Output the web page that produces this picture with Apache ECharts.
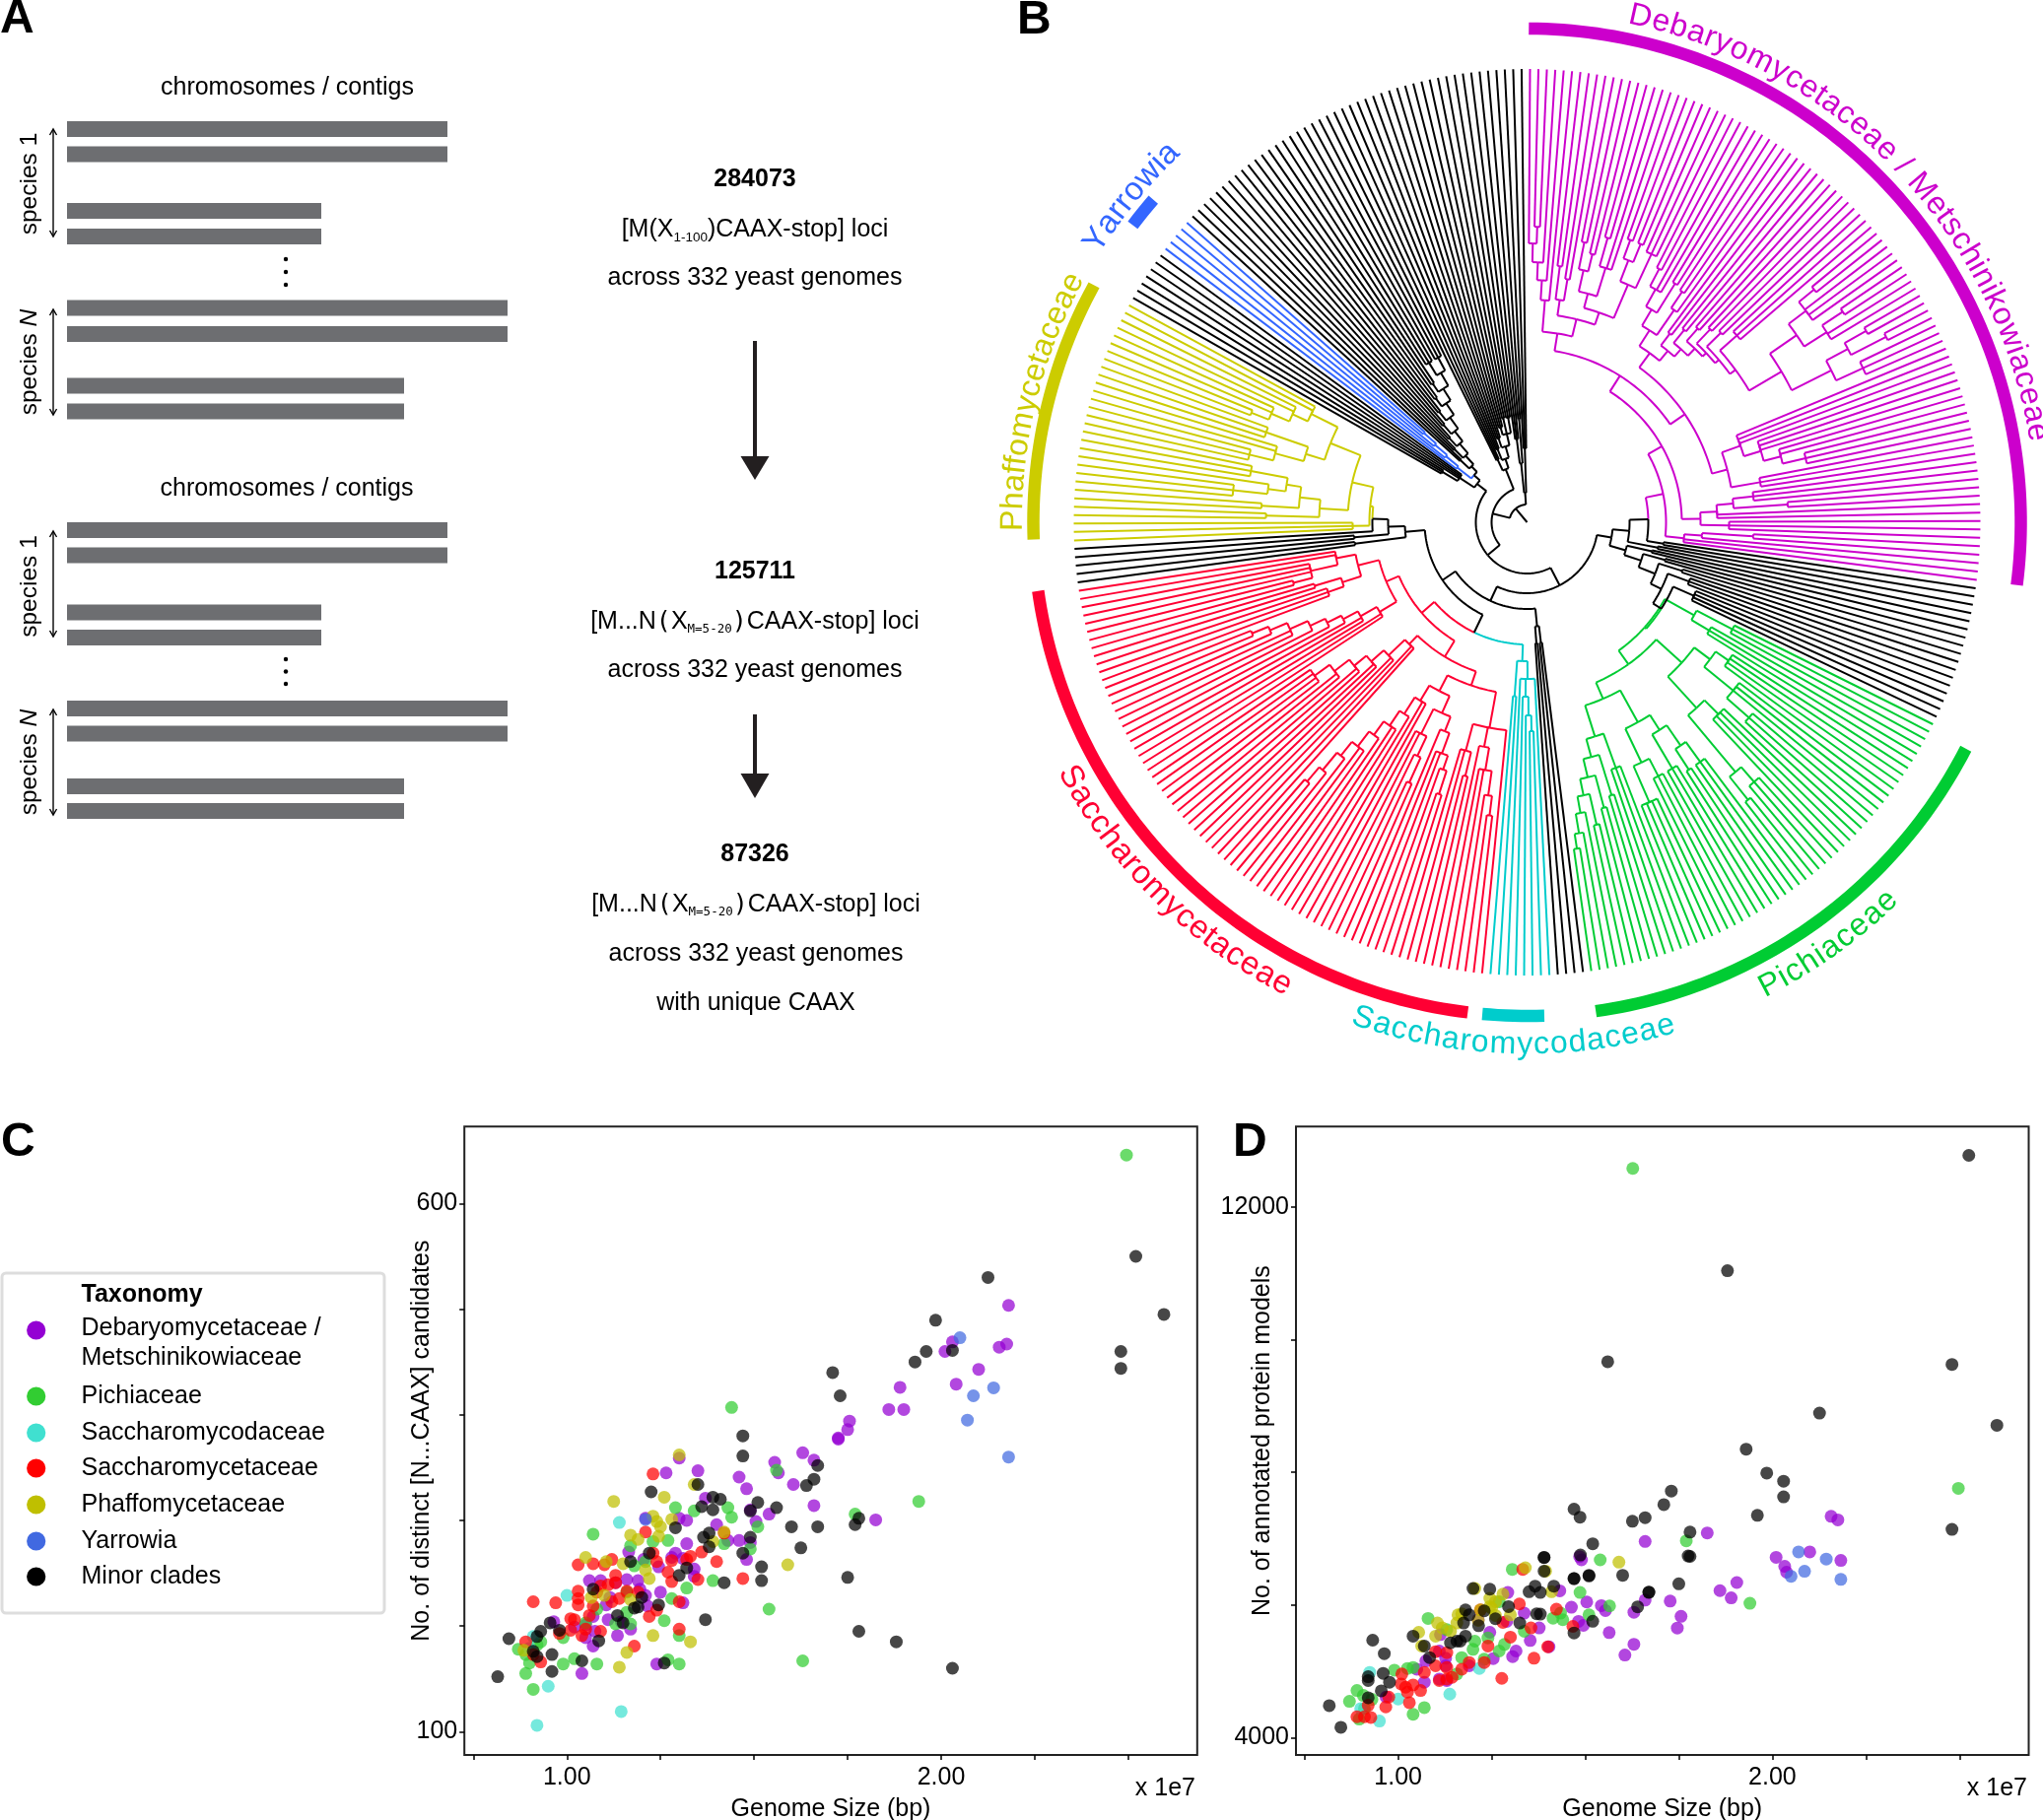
<!DOCTYPE html>
<html><head><meta charset="utf-8">
<style>html,body{margin:0;padding:0;background:#fff}#c{width:2073px;height:1847px}</style>
<script src="https://cdn.jsdelivr.net/npm/echarts@6/dist/echarts.min.js"></script>
</head><body><div id="c"></div>
<script>
/* ---------- Panel C values: [genome size (x 1e7 bp), distinct candidates] ---------- */
const cDebaryo=[[1.265,345],[1.30,359],[1.35,347],[1.63,364],[1.555,355],[1.66,357],[1.46,341],[1.48,330],[1.565,345],[1.605,334],[1.66,314],[1.725,378],[1.37,321],[1.54,306],[1.49,310],[1.505,299],[1.30,302],[1.32,300],[1.21,302],[1.40,296],[1.43,281],[1.46,281],[1.49,279],[1.48,263],[1.32,278],[1.165,270],[1.205,263],[1.28,265],[1.29,269],[1.245,256],[1.31,264],[1.34,254],[1.34,247],[1.06,243],[1.09,243],[1.16,244],[1.19,243],[1.13,241],[1.195,235],[1.21,229],[1.25,232],[1.31,222],[1.215,219],[1.105,220],[1.115,227],[1.07,209],[1.11,206],[0.965,204],[1.05,201],[1.075,195],[1.05,189],[1.135,191],[1.17,197],[1.07,181],[1.04,155],[1.24,164],[1.02,199],[1.145,204],[2.18,503.6],[2.175,467],[2.155,464],[2.03,469],[2.01,460],[2.10,443],[2.04,429],[1.89,426],[1.86,405],[1.90,405],[1.755,394],[1.75,386],[1.725,377],[1.825,300.5]];
const cPichia=[[1.07,287],[0.87,178],[0.89,173],[0.90,165],[0.89,155],[0.91,140],[0.99,164],[1.02,169],[1.08,164],[0.99,189],[1.17,276],[1.29,312],[1.34,309],[1.43,312],[1.44,303],[1.27,281],[1.23,280],[1.42,278],[1.51,294],[1.49,273],[1.32,236],[1.39,243],[1.28,226],[1.26,205],[1.30,191],[1.27,168],[1.30,164],[1.63,167],[1.54,216],[1.18,257],[1.21,261],[1.16,232],[1.17,202],[1.13,202],[1.08,216],[1.05,203],[0.93,185],[0.92,182],[1.16,213],[1.56,347.5],[1.77,306],[1.44,407],[1.94,318],[2.495,646]];
const cSaccharomycoda=[[1.00,229],[1.14,298],[0.95,143],[1.145,119],[0.92,106],[0.91,190],[0.90,179]];
const cSaccharomyceta=[[1.23,344],[1.03,258],[1.07,259],[1.10,258],[1.12,263],[0.91,223],[0.97,222],[1.03,233],[1.03,226],[1.03,220],[1.01,207],[1.02,206],[1.01,196],[0.98,193],[1.04,191],[1.07,219],[1.05,197],[1.09,195],[1.09,238],[1.13,248],[1.13,241],[1.11,239],[1.14,226],[1.16,233],[1.21,289],[1.23,269],[1.24,261],[1.28,262],[1.32,263],[1.33,266],[1.36,270],[1.40,261],[1.42,288],[1.27,251],[1.28,242],[1.35,244],[1.47,245],[1.30,223],[1.24,215],[1.22,209],[1.30,197],[1.18,181],[0.89,185],[0.91,173],[0.93,166],[1.12,223],[1.08,232],[1.06,210],[1.19,232]];
const cPhaffo=[[1.125,318],[1.30,362],[1.34,334],[1.26,322],[1.23,304],[1.24,299],[1.25,294],[1.28,301],[1.17,286],[1.19,282],[1.245,285],[1.05,265],[1.105,261],[1.15,259],[1.21,253],[1.22,245],[1.39,280],[1.42,289],[1.59,258],[1.065,227],[1.10,229],[1.17,225],[1.23,191],[1.33,185],[1.16,175],[1.14,161],[0.885,177]];
const cYarrowia=[[2.05,473],[2.14,425.5],[2.086,418],[2.07,395],[2.18,360],[1.21,301]];
const cMinor=[[1.47,380],[1.47,361],[1.225,327],[1.35,334],[1.39,322],[1.41,320],[1.36,313],[1.39,310],[1.51,317],[1.49,309],[1.56,312],[1.29,293],[1.60,294],[1.67,294],[1.38,288],[1.365,284],[1.38,275],[1.49,284],[1.47,269],[1.625,274],[1.52,256],[1.52,243],[1.64,333],[1.66,339],[1.67,352],[1.75,246],[1.78,195],[1.42,241],[1.32,255],[1.30,248],[1.17,261],[1.20,227],[1.245,220],[1.18,217],[1.19,218],[1.135,210],[1.15,203],[1.085,186],[1.07,235],[1.22,269],[1.37,206],[1.04,167],[1.26,165],[0.96,173],[0.96,157],[0.815,152],[0.845,188],[0.93,195],[0.92,190],[0.955,203],[0.98,196],[0.92,171],[0.91,176],[2.52,550],[2.595,495],[2.125,530],[2.48,460],[2.48,444],[1.985,489.5],[1.96,460],[2.03,461],[1.93,450],[1.71,440],[1.73,418],[2.03,160],[1.88,185],[1.77,296],[1.78,302]];

/* ---------- Panel D values: [genome size (x 1e7 bp), annotated protein models] ---------- */
const dDebaryo=[[1.826,7086],[1.66,6957],[2.157,7337],[2.175,7283],[2.183,6671],[2.10,6800],[2.01,6719],[2.033,6583],[2.038,6494],[1.905,6338],[1.86,6216],[1.89,6107],[1.727,6059],[1.756,5828],[1.746,5652],[1.63,5407],[1.606,5244],[1.66,6073],[1.63,5890],[1.485,6730],[1.49,6680],[1.293,6189],[1.432,6213],[1.504,6045],[1.463,5965],[1.543,5990],[1.554,5916],[1.482,5752],[1.495,5692],[1.564,5583],[1.377,5653],[1.353,5464],[1.403,5370],[1.315,5305],[1.306,5221],[1.254,5191],[1.19,5082],[1.127,5196],[1.127,5082],[1.11,5305],[1.245,5588],[1.337,5876],[1.214,5777],[1.29,5752],[1.113,5553],[1.074,5156],[1.05,5032],[1.07,4834],[1.11,4883],[1.13,4859],[0.968,4610]];
const dPichia=[[1.08,5797],[1.13,5628],[1.305,6536],[1.54,6680],[1.486,6189],[1.51,5851],[1.565,5985],[1.434,5876],[1.414,5801],[1.44,5777],[1.337,5603],[1.27,6050],[1.205,5454],[1.20,5330],[1.24,5504],[1.284,5404],[1.27,5305],[1.17,5206],[1.23,5181],[1.025,5042],[0.99,5017],[1.04,5057],[1.157,4958],[1.07,4452],[1.04,4352],[0.89,4710],[0.87,4546],[0.907,4635],[0.91,4437],[0.896,4278],[0.93,4576],[1.77,6968],[2.497,7759],[1.627,12585],[1.94,6025]];
const dSaccharomycoda=[[0.924,4983],[1.00,4581],[1.138,4655],[0.95,4248],[0.90,4437],[1.217,5042]];
const dSaccharomyceta=[[1.333,6536],[1.324,6015],[1.423,5936],[1.467,5677],[1.28,5737],[1.30,5514],[1.40,5370],[1.363,5196],[1.277,4893],[1.24,5380],[1.10,5295],[1.13,5280],[1.13,5057],[1.10,5082],[1.07,4983],[1.01,4958],[1.144,4908],[1.11,4859],[1.13,4883],[1.008,4809],[1.04,4794],[1.025,4685],[1.02,4759],[1.06,4710],[1.03,4526],[0.967,4462],[0.89,4313],[0.91,4313],[0.927,4303],[0.975,4610],[0.92,4486],[1.19,5131],[1.17,5032],[1.23,5131],[1.355,5653],[1.22,5926]];
const dPhaffo=[[1.34,6561],[1.59,6645],[1.394,6511],[1.245,6099],[1.28,6164],[1.41,6199],[1.205,6248],[1.055,5588],[1.105,5727],[1.17,5866],[1.16,5851],[1.22,5926],[1.25,5950],[1.214,5767],[1.26,5841],[1.30,5851],[1.10,5529],[1.118,5653],[1.14,5603],[1.157,5727],[1.063,5380],[1.26,6050],[1.245,5975]];
const dYarrowia=[[2.07,6800],[2.144,6692],[2.183,6386],[2.086,6508],[2.05,6433]];
const dMinor=[[2.525,12782],[1.88,11042],[1.56,9669],[2.48,9628],[2.126,8894],[2.60,8710],[1.93,8350],[1.985,7990],[2.03,7867],[2.03,7630],[1.96,7351],[2.48,7140],[1.73,7718],[1.71,7514],[1.66,7317],[1.626,7263],[1.47,7446],[1.486,7324],[1.78,7099],[1.775,6739],[1.78,6732],[1.52,6923],[1.487,6753],[1.39,6719],[1.60,6447],[1.51,6447],[1.47,6399],[1.75,6318],[1.67,6195],[1.64,5971],[1.52,5754],[1.47,5577],[0.932,5469],[0.963,5266],[0.816,4481],[0.847,4154],[0.96,4968],[0.92,4859],[0.92,4918],[0.955,4705],[0.977,4834],[0.92,4600],[1.04,5529],[1.07,5380],[1.18,5926],[1.20,6248],[1.245,6238],[1.366,6283],[1.35,6199],[1.38,6189],[1.416,6283],[1.39,6715],[1.39,6511],[1.47,6397],[1.51,6437],[1.67,6189],[1.37,5866],[1.38,5861],[1.295,5975],[1.23,5911],[1.19,5851],[1.175,5727],[1.26,5792],[1.215,5687],[1.18,5529],[1.166,5454],[1.157,5454],[1.14,5429],[1.084,5206],[1.325,5727]];

const taxa=['Debaryomycetaceae / Metschinikowiaceae','Pichiaceae','Saccharomycodaceae','Saccharomycetaceae','Phaffomycetaceae','Yarrowia','Minor clades'];
const xTicks=[0.75,1,1.25,1.5,1.75,2,2.25,2.5];
const xLabels=[1,2];
const cYTicks=[100,200,300,400,500,600];
const cYLabels=[100,600];
const dYTicks=[4000,6000,8000,10000,12000];
const dYLabels=[4000,12000];

/* ---------- Panel A values ---------- */
const contigLengths=[386,386,258,258,447,447,342,342];
const funnelCounts=['284073','125711','87326'];

/* ---------- Panel B tree: [node depth, children...]; a child number is that many tips ---------- */
const tA=[226,[246,[264,[283,1,[300,2]],1],1],1];
const tV=[228,[262,2],[250,2]];
const tW=[225,[240,[262,[290,2],[280,2]],[270,[300,2],2]],[262,[285,[305,2],[305,2]],[300,3]]];
const mOne=[231,[250,[270,[290,2],2],[285,2]],[262,[282,2],1]];
const sOne=[333,[355,[375,2],3],[360,[385,2],2]];
const sTwo=[345,[370,[395,2],[410,2]],[375,3]];
const mTwo=[225,[240,2],[235,[252,2],[245,[262,2],[250,[270,2],[255,[275,2],[262,[285,3],[300,sOne,sTwo]]]]]]];
const pR=[210,[230,3,[248,3,[266,2,[290,3]]]],[240,3]];
const pX=[176,[193,[210,[231,3],[265,2]],2],[205,3]];
const pLow=[160,[178,[230,2],1],2];
const debaryoTree=[141,[157,[176,[194,tA,[212,tV,tW]],[194,[212,mOne,mTwo],pR]],pX],pLow];
const pichiaTree=[160,[194,[235,3],[215,3]],[177,
  [212,[232,[248,4],[270,3,[300,3]]],[255,[275,4],[330,[350,3],[360,2]]]],
  [195,[232,[250,[275,[300,3],[300,2]],[290,3]],[270,[290,3],[310,4]]],
       [228,[265,3],[247,[290,2],[266,[300,2],[283,[315,2],[300,1,[320,1,[335,2]]]]]]]]]];
const saccharomycodaTree=[141,[159,1,[177,[196,[212,2],1],1],1],[177,2]];
const rA=[212,1,[232,[255,[280,[300,2],1],2],1],[240,[265,2],2]];
const rB2=[212,[228,[250,[265,[290,2],1],2],1],[240,[262,[290,2],1],2]];
const rB1=[211,2,[231,1,[249,2,[266,1,[285,2,[303,1,[326,1,[345,2]]]]]]]];
const rX=[172,2,[195,2,[212,2,[228,2,[247,2,[266,2,2]]]]]];
const rY=[175,2,[194,2,[211,1,[227,1,[244,1,[264,2,[283,1,[301,2]]]]]]]];
const rOne=[177,[197,[214,3],[225,2]],[197,[225,[245,2],3],2]];
const saccharomycetaTree=[141,[160,[175,rA,[193,rB2,rB1]],rX],[155,rY,rOne]];
const phaffoTree=[160,[177,3],[182,
  [211,[265,2],[232,[270,2],[247,[265,[300,3],1],[285,3]]]],
  [215,[235,[265,[290,3],2],[280,3]],[245,[262,[282,[301,2],2],2],2]]]];
const yarrowiaTree=[90,1,[106,1,[122,1,[138,2]]]];
const ladderClade=[80,[92,2],[92,[104,2],[105,[116,2],[118,[130,2],[132,[143,2],[146,[156,2],[160,[170,2],[175,[190,3],[190,3]]]]]]]]];
const stackClade=[58,[70,3],[68,[80,3],[80,[90,3],[92,[100,3],[108,2],[108,3]]]]];
const outgroup=[30,[60,[85,3],[105,2]],[75,3]];
const familyBands=[['#CC00CC',0.2,97.3],['#00CC33',117.3,172],['#00CCCC',178,185.2],['#FF0033',186.9,262],['#CCCC00',268,298.7],['#3366FF',307,310.8]];
const familyLabels=[
 ['Debaryomycetaceae / Metschinikowiaceae','#CC00CC',11.3,81,'out',32,514],
 ['Phaffomycetaceae','#CCCC00',269,298.7,'out',32,510],
 ['Yarrowia','#3366FF',302,316.5,'out',33,510],
 ['Saccharomycetaceae','#FF0033',242,207,'in',33,542],
 ['Saccharomycodaceae','#00CCCC',199.5,163.6,'in',32,542],
 ['Pichiaceae','#00CC33',153.5,135.5,'in',32,542]];

/* ---------- tree assembly ---------- */
function fam(color,node){return {color:color,node:node};}
const rootTree=[18,
 [36,
  [52,
   [72,
    [87,
     [104,[123,fam('#CC00CC',debaryoTree),[140,2]],[135,2]],
     [104,[130,2],[122,[145,2],[140,[165,2],[152,[175,3],[162,[185,4],fam('#00CC33',pichiaTree)]]]]]],
    [88,[106,[123,2],[123,2]],
     [104,[124,fam('#00CCCC',saccharomycodaTree),fam('#FF0033',saccharomycetaTree)],
      [124,[176,2],[141,[176,2],[157,1,fam('#CCCC00',phaffoTree)]]]]]],
   [64,[82,[100,3],4],[72,fam('#3366FF',yarrowiaTree),ladderClade]]],
  stackClade],
 outgroup];

function countTips(n){
  if(typeof n==='number')return n;
  if(!Array.isArray(n))return countTips(n.node);
  let s=0;for(let i=1;i<n.length;i++)s+=countTips(n[i]);return s;
}
const tipTotal=countTips(rootTree), tipStep=360/tipTotal, TIP_R=460;
const segs=[]; let tipIdx=0;
function place(n,color){
  if(!Array.isArray(n))return place(n.node,n.color);
  const kids=[];
  for(let i=1;i<n.length;i++){
    const c=n[i];
    if(typeof c==='number'){
      for(let k=0;k<c;k++){const th=(tipIdx+0.35)*tipStep;tipIdx++;kids.push({th:th,r:TIP_R,color:color});}
    }else kids.push(place(c,color));
  }
  const r=n[0], th=(kids[0].th+kids[kids.length-1].th)/2;
  kids.forEach(k=>{
    segs.push([0,k.r,k.th,r,k.th,k.color]);
    segs.push([1,r,k.th,r,th,k.color]);
  });
  return {th:th,r:r,color:color};
}
const rootNode=place(rootTree,'#000000');
segs.push([0,rootNode.r,rootNode.th,0,rootNode.th,'#000000']);

/* ---------- helpers ---------- */
const FONT='"Liberation Sans",Arial,sans-serif';
const measureCtx=document.createElement('canvas').getContext('2d');
function textW(t,font){measureCtx.font=font;return measureCtx.measureText(t).width;}
const g=[];
const TXT_DY=2;
function T(t,x,y,o){o=o||{};g.push({type:'text',x:x,y:y+TXT_DY,rotation:o.rot||0,z:20,style:{text:t,font:(o.bold?'bold ':'')+(o.size||25)+'px '+FONT,fill:o.fill||'#000',align:o.align||'center',verticalAlign:'middle'}});}
function runs(cx,cy,parts){
  const main='25px '+FONT;
  const w=parts.reduce((s,p)=>s+textW(p.t,p.font||main),0);
  let x=cx-w/2;
  parts.forEach(p=>{
    g.push({type:'text',x:x,y:cy+TXT_DY+(p.dy||0),z:20,style:{text:p.t,font:p.font||main,fill:'#000',align:'left',verticalAlign:'middle'}});
    x+=textW(p.t,p.font||main);
  });
}
function dblArrow(x,y0,y1){
  g.push({type:'line',z:20,shape:{x1:x,y1:y0,x2:x,y2:y1},style:{stroke:'#000',lineWidth:1.4}});
  g.push({type:'polyline',z:20,shape:{points:[[x-3.5,y0+6],[x,y0],[x+3.5,y0+6]]},style:{stroke:'#000',lineWidth:1.4,fill:null}});
  g.push({type:'polyline',z:20,shape:{points:[[x-3.5,y1-6],[x,y1],[x+3.5,y1-6]]},style:{stroke:'#000',lineWidth:1.4,fill:null}});
}
function bigArrow(x,y0,yHead,y1){
  g.push({type:'rect',z:20,shape:{x:x-2,y:y0,width:4,height:yHead-y0},style:{fill:'#231F20'}});
  g.push({type:'polygon',z:20,shape:{points:[[x-14.5,yHead],[x+14.5,yHead],[x,y1]]},style:{fill:'#231F20'}});
}
function dots(x,y0,y1){[y0,(y0+y1)/2,y1].forEach(y=>g.push({type:'circle',z:20,shape:{cx:x,cy:y,r:2.2},style:{fill:'#000'}}));}

/* panel letters */
T('A',0,18,{bold:true,size:48,align:'left'});
T('B',1032,19,{bold:true,size:48,align:'left'});
T('C',1,1158,{bold:true,size:48,align:'left'});
T('D',1251,1158,{bold:true,size:48,align:'left'});

/* panel A text + arrows */
T('chromosomes / contigs',291.5,87);T('chromosomes / contigs',291,494);
[[30,186.5,'1',131,240,314,421],[30,595,'1',539,646,720,827]].forEach(b=>{
  g.push({type:'text',x:b[0],y:b[1],rotation:Math.PI/2,z:20,style:{text:'species 1',font:'24.5px '+FONT,fill:'#000',align:'center',verticalAlign:'middle'}});
  const midN=(b[5]+b[6])/2;
  g.push({type:'text',x:b[0],y:midN,rotation:Math.PI/2,z:20,style:{text:'species {i|N}',font:'24.5px '+FONT,fill:'#000',align:'center',verticalAlign:'middle',rich:{i:{font:'italic 24.5px '+FONT,fill:'#000'}}}});
  dblArrow(54,b[3],b[4]);dblArrow(54,b[5],b[6]);
});
dots(290,263,289);dots(290,669,694);
const sub='13.5px '+FONT, mono='12.5px "DejaVu Sans Mono",monospace', paren='25px "DejaVu Sans Mono",monospace';
T(funnelCounts[0],766,180,{bold:true});
runs(766,231,[{t:'[M(X'},{t:'1-100',font:sub,dy:8},{t:')CAAX-stop] loci'}]);
T('across 332 yeast genomes',766,280.5);
bigArrow(766,346,463,487);
T(funnelCounts[1],766,578,{bold:true});
runs(766,629,[{t:'[M...N'},{t:'(',font:paren},{t:'X'},{t:'M=5-20',font:mono,dy:8},{t:')',font:paren},{t:'CAAX-stop] loci'}]);
T('across 332 yeast genomes',766,678.5);
bigArrow(766,725,785,810);
T(funnelCounts[2],766,865.5,{bold:true});
runs(767,916,[{t:'[M...N'},{t:'(',font:paren},{t:'X'},{t:'M=5-20',font:mono,dy:8},{t:')',font:paren},{t:'CAAX-stop] loci'}]);
T('across 332 yeast genomes',767,966);
T('with unique CAAX',767,1016);

/* legend */
g.push({type:'rect',z:15,shape:{x:2,y:1292,width:388,height:345,r:4},style:{fill:'#fff',stroke:'#DDDDDD',lineWidth:3}});
T('Taxonomy',82.5,1312,{bold:true,align:'left'});
const legendColors=['#9400D3','#32CD32','#40E0D0','#FF0000','#BFBF00','#4169E1','#000000'];
const legendMarkY=[1350,1417,1454,1490,1527,1564,1600];
const legendTextY=[1347,1415,1452,1488,1525,1562,1598];
taxa.forEach((n,i)=>{
  g.push({type:'circle',z:20,shape:{cx:36.7,cy:legendMarkY[i],r:9.6},style:{fill:legendColors[i]}});
  if(i===0){T('Debaryomycetaceae /',82.5,1346,{align:'left'});T('Metschinikowiaceae',82.5,1376,{align:'left'});}
  else T(n,82.5,legendTextY[i],{align:'left'});
});
T('x 1e7',1213,1813,{align:'right'});T('x 1e7',2057,1813,{align:'right'});

/* ---------- family names set letter by letter along the arcs ---------- */
const labelItems=[];
familyLabels.forEach(L=>{
  const t=L[0],a0=L[2],a1=L[3],dir=L[4],fs=L[5],base=L[6];
  const font=fs+'px '+FONT;
  const total=textW(t,font);
  let adv=0;
  for(let i=0;i<t.length;i++){
    const w=textW(t[i],font);
    const frac=(adv+w/2)/total;
    const th=a0+(a1-a0)*frac;
    const rc=(dir==='out')?base+0.36*fs:base-0.36*fs;
    labelItems.push([rc,th,dir==='out'?-th:-(th-180),i,familyLabels.indexOf(L)]);
    adv+=w;
  }
});

/* ---------- option ---------- */
const rowY=[123,148.5,206,232,304.5,331,383.6,409.6,530,555.6,613.6,639,711,736.5,790,815];
const barData=[];
rowY.forEach((y,i)=>barData.push([contigLengths[i%8],i]));

function scatterSeries(grid,arrs){
  return arrs.map((d,i)=>({name:taxa[i],type:'scatter',xAxisIndex:grid,yAxisIndex:grid,data:d,symbol:'circle',symbolSize:13,z:5,
    itemStyle:{color:legendColors[i],opacity:0.72,borderWidth:0},silent:true,animation:false}));
}
function axisX(gi){return {gridIndex:gi,type:'value',min:gi===0?0.726:0.727,max:gi===0?2.684:2.685,splitLine:{show:false},axisLine:{show:false},
  axisTick:{show:true,length:5,lineStyle:{color:'#000',width:1.5},customValues:xTicks},
  axisLabel:{customValues:xLabels,formatter:v=>v.toFixed(2),fontFamily:'Liberation Sans',fontSize:25,color:'#000',margin:11},
  name:'Genome Size (bp)',nameLocation:'middle',nameGap:43,nameMoveOverlap:false,nameTextStyle:{fontFamily:'Liberation Sans',fontSize:25,color:'#000'}};}
function axisY(gi,min,max,ticks,labels,name,gap){return {gridIndex:gi,type:'value',min:min,max:max,splitLine:{show:false},axisLine:{show:false},
  axisTick:{show:true,length:5,lineStyle:{color:'#000',width:1.5},customValues:ticks},
  axisLabel:{customValues:labels,formatter:v=>String(v),fontFamily:'Liberation Sans',fontSize:25,color:'#000',margin:7},
  name:name,nameLocation:'middle',nameGap:gap,nameMoveOverlap:false,nameTextStyle:{fontFamily:'Liberation Sans',fontSize:25,color:'#000'}};}

const option={
  animation:false,backgroundColor:'#fff',
  grid:[
    {left:471.2,top:1143.3,width:743.6,height:637.7,show:true,borderColor:'#222',borderWidth:2,backgroundColor:'transparent',outerBoundsMode:'none'},
    {left:1315,top:1143.3,width:743.5,height:637.7,show:true,borderColor:'#222',borderWidth:2,backgroundColor:'transparent',outerBoundsMode:'none'},
    {left:0,top:0,width:2073,height:1847,show:false,outerBoundsMode:'none'}
  ],
  xAxis:[axisX(0),axisX(1),{gridIndex:2,type:'value',min:0,max:2073,show:false}],
  yAxis:[
    axisY(0,77.9,672.9,cYTicks,cYLabels,'No. of distinct [N...CAAX] candidates',31),
    axisY(1,3737,13216,dYTicks,dYLabels,'No. of annotated protein models',21),
    {gridIndex:2,type:'value',min:0,max:1847,inverse:true,show:false}
  ],
  polar:{center:[1549.5,530],radius:[0,600]},
  angleAxis:{type:'value',min:0,max:360,startAngle:90,clockwise:true,show:false,splitLine:{show:false}},
  radiusAxis:{type:'value',min:0,max:600,show:false,splitLine:{show:false}},
  graphic:{elements:g},
  series:[
    ...scatterSeries(0,[cDebaryo,cPichia,cSaccharomycoda,cSaccharomyceta,cPhaffo,cYarrowia,cMinor]),
    ...scatterSeries(1,[dDebaryo,dPichia,dSaccharomycoda,dSaccharomyceta,dPhaffo,dYarrowia,dMinor]),
    {type:'custom',xAxisIndex:2,yAxisIndex:2,data:barData,silent:true,z:3,clip:false,
     renderItem:(p,api)=>{
       const i=api.value(1), a=api.coord([68,rowY[i]]), b=api.coord([68+api.value(0),rowY[i]+16]);
       return {type:'rect',shape:{x:a[0],y:a[1],width:b[0]-a[0],height:b[1]-a[1]},style:{fill:'#6D6E71'}};
     }},
    {type:'custom',coordinateSystem:'polar',data:segs.map((s,i)=>[s[1],s[2],s[3],s[4],s[0],i]),silent:true,z:4,clip:false,
     renderItem:(p,api)=>{
       const kind=api.value(4), s=segs[api.value(5)], pts=[];
       if(kind===0){pts.push(api.coord([s[1],s[2]]));pts.push(api.coord([s[3],s[4]]));}
       else{
         const a=s[2],b=s[4],n=Math.max(1,Math.ceil(Math.abs(b-a)/1.5));
         for(let k=0;k<=n;k++)pts.push(api.coord([s[1],a+(b-a)*k/n]));
       }
       return {type:'polyline',shape:{points:pts},style:{stroke:s[5],lineWidth:2,fill:null}};
     }},
    {type:'custom',coordinateSystem:'polar',data:familyBands.map((b,i)=>[501,b[1],b[2],i]),silent:true,z:4,clip:false,
     renderItem:(p,api)=>{
       const b=familyBands[api.value(3)],a0=api.value(1),a1=api.value(2),n=Math.max(2,Math.ceil((a1-a0)/1)),pts=[];
       for(let k=0;k<=n;k++)pts.push(api.coord([api.value(0),a0+(a1-a0)*k/n]));
       return {type:'polyline',shape:{points:pts},style:{stroke:b[0],lineWidth:12.5,fill:null,lineCap:'butt',lineJoin:'round'}};
     }},
    {type:'custom',coordinateSystem:'polar',data:labelItems,silent:true,z:6,clip:false,
     renderItem:(p,api)=>{
       const pt=api.coord([api.value(0),api.value(1)]);
       const L=familyLabels[api.value(4)];
       return {type:'text',x:pt[0],y:pt[1],rotation:api.value(2)*Math.PI/180,
         style:{text:L[0][api.value(3)],font:L[5]+'px '+FONT,fill:L[1],align:'center',verticalAlign:'middle'}};
     }}
  ]
};
const chart=echarts.init(document.getElementById('c'),null,{renderer:'canvas'});
chart.setOption(option);
</script></body></html>
